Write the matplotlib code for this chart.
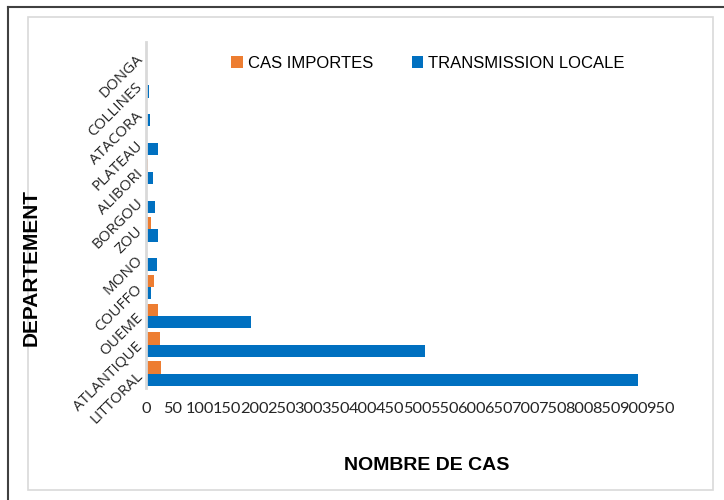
import matplotlib
matplotlib.use('Agg')
import matplotlib.pyplot as plt
from matplotlib.patches import Rectangle
from matplotlib.lines import Line2D
import numpy as np

# Departements, bottom to top
departements = ['LITTORAL', 'ATLANTIQUE', 'OUEME', 'COUFFO', 'MONO', 'ZOU',
                'BORGOU', 'ALIBORI', 'PLATEAU', 'ATACORA', 'COLLINES', 'DONGA']

# Values
cas_importes = [28, 26, 23, 15, 0, 9, 0, 4, 2, 0, 0, 0]
transmission_locale = [908, 514, 193, 10, 21, 23, 17, 13, 22, 8, 5, 0]

xticks = list(range(0, 1000, 50))

orange = '#ED7D31'
blue = '#0070C0'
sans = ['Liberation Sans', 'DejaVu Sans']

fig = plt.figure(figsize=(7.24, 5), dpi=100)
ax = fig.add_axes([0.2017, 0.224, 0.711, 0.692])

y = np.arange(len(departements))
h = 0.43
ax.barh(y + h / 2, cas_importes, height=h, color=orange, label='CAS IMPORTES')
ax.barh(y - h / 2, transmission_locale, height=h, color=blue, label='TRANSMISSION LOCALE')

ax.set_xlim(0, 950)
ax.set_ylim(-0.5, len(departements) - 0.5)
ax.set_xticks(xticks)
ax.set_xticklabels([str(t) for t in xticks], fontsize=11.8, family='Lato', color='#262626')
ax.set_yticks(y)
ax.set_yticklabels(departements, fontsize=11, family='Open Sans', color='#262626',
                   rotation=45, rotation_mode='anchor', ha='right', va='center')
ax.tick_params(axis='both', length=0)
ax.tick_params(axis='y', pad=4)
ax.tick_params(axis='x', pad=10)

for s in ['top', 'right', 'bottom']:
    ax.spines[s].set_visible(False)
ax.spines['left'].set_color('#D9D9D9')
ax.spines['left'].set_linewidth(2)

fig.text(427 / 724, 1 - 465 / 500, 'NOMBRE DE CAS', fontsize=14, fontweight='bold',
         family=sans, ha='center', va='center')
fig.text(31 / 724, 1 - 268 / 500, 'DEPARTEMENT', fontsize=15, fontweight='bold',
         family=sans, ha='center', va='center', rotation=90)

ax.legend(loc='center', bbox_to_anchor=(428 / 724, 1 - 63 / 500), bbox_transform=fig.transFigure,
          ncol=2, frameon=False, handlelength=0.7, handleheight=0.7, handletextpad=0.3,
          columnspacing=2.3, prop={'family': sans, 'size': 12})

# chart area border and page border
fig.patches.append(Rectangle((28 / 724, 10 / 500), 685 / 724, 473 / 500, transform=fig.transFigure,
                             fill=False, edgecolor='#D9D9D9', linewidth=1.2))
fig.lines.append(Line2D([8 / 724, 8 / 724], [0, 493 / 500], transform=fig.transFigure,
                        color='#404040', linewidth=1.5))
fig.lines.append(Line2D([8 / 724, 1], [493 / 500, 493 / 500], transform=fig.transFigure,
                        color='#404040', linewidth=1.5))

fig.savefig('out.png', dpi=100)
